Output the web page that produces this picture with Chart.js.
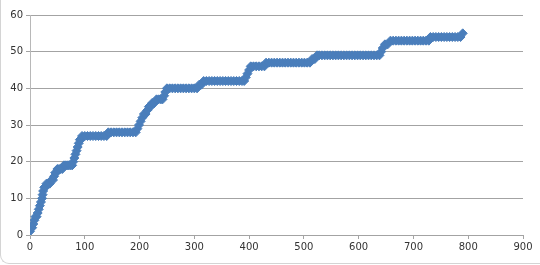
<!DOCTYPE html>
<html>
<head>
<meta charset="utf-8">
<script src="https://cdn.jsdelivr.net/npm/chart.js@4.4.1/dist/chart.umd.min.js"></script>
<style>
  html, body { margin: 0; padding: 0; background: #fff; }
  #wrap {
    position: relative; width: 540px; height: 264px; box-sizing: border-box;
    border-left: 1px solid #d4d4d4; border-bottom: 1px solid #d4d4d4;
    border-bottom-left-radius: 9px; overflow: hidden;
  }
  canvas { position: absolute; left: -1px; top: 0; }
</style>
</head>
<body>
<div id="wrap"><canvas id="chart" width="540" height="265"></canvas></div>
<script>
  // x values (grouped by segment so they line up with ys)
  const xs = [
    0, 2, 4, 6, 8, 10, 12, 14, 16, 18, 20, 22, 23, 24, 26, 28, 30, 33, 36, 39, 42, 44, 46, 48, 50, 53, 56, 59, 62,
    65, 68, 71, 74, 77,
    79, 81, 83, 85, 87, 89, 91, 93,
    95, 100, 105, 110, 115, 120, 125, 130, 135, 140,
    143, 148, 153, 158, 163, 168, 173, 178, 183, 188, 193,
    196, 199, 202, 205, 208, 211, 214, 217, 220, 223, 227, 231, 235, 239, 242, 245, 247,
    250, 255, 260, 265, 270, 275, 280, 285, 290, 295, 300, 305,
    309, 313,
    317, 322, 327, 332, 337, 342, 347, 352, 357, 362, 367, 372, 377, 382, 387, 391,
    394, 397, 400, 403,
    408, 413, 418, 423, 428,
    431, 436, 441, 446, 451, 456, 461, 466, 471, 476, 481, 486, 491, 496, 501, 506, 511,
    515, 520, 524, 528,
    533, 538, 543, 548, 553, 558, 563, 568, 573, 578, 583, 588, 593, 598, 603, 608, 613, 618, 623, 628, 633, 638,
    641, 644, 648, 653, 658,
    663, 668, 673, 678, 683, 688, 693, 698, 703, 708, 713, 718, 723, 728,
    731, 736, 741, 746, 751, 756, 761, 766, 771, 776, 781, 786,
    790
  ];
  const ys = [
    1, 2, 2, 3, 4, 5, 5, 6, 7, 8, 9, 10, 11, 12, 13, 13, 14, 14, 14, 15, 15, 16, 17, 17, 18, 18, 18, 18, 19,
    19, 19, 19, 19, 19,
    20, 21, 22, 23, 24, 25, 26, 26,
    27, 27, 27, 27, 27, 27, 27, 27, 27, 27,
    28, 28, 28, 28, 28, 28, 28, 28, 28, 28, 28,
    29, 30, 31, 32, 33, 33, 34, 35, 35, 36, 36, 37, 37, 37, 37, 38, 39,
    40, 40, 40, 40, 40, 40, 40, 40, 40, 40, 40, 40,
    41, 41,
    42, 42, 42, 42, 42, 42, 42, 42, 42, 42, 42, 42, 42, 42, 42, 42,
    43, 44, 45, 46,
    46, 46, 46, 46, 46,
    47, 47, 47, 47, 47, 47, 47, 47, 47, 47, 47, 47, 47, 47, 47, 47, 47,
    48, 48, 49, 49,
    49, 49, 49, 49, 49, 49, 49, 49, 49, 49, 49, 49, 49, 49, 49, 49, 49, 49, 49, 49, 49, 49,
    50, 51, 52, 52, 53,
    53, 53, 53, 53, 53, 53, 53, 53, 53, 53, 53, 53, 53, 53,
    54, 54, 54, 54, 54, 54, 54, 54, 54, 54, 54, 54,
    55
  ];

  const xTicks = [0, 100, 200, 300, 400, 500, 600, 700, 800, 900];
  const yTicks = [0, 10, 20, 30, 40, 50, 60];

  const blue = "#4a7ebb";
  const gridGray = "#a3a3a3";
  const axisGray = "#b8b8b8";
  const tickFont = { family: "DejaVu Sans", size: 10 };

  const points = xs.map((x, i) => ({ x: x, y: ys[i] }));

  new Chart(document.getElementById("chart"), {
    type: "scatter",
    data: {
      datasets: [{
        data: points,
        showLine: true,
        borderColor: blue,
        borderWidth: 2,
        backgroundColor: blue,
        pointStyle: "rectRot",
        pointRadius: 4.5,
        pointBorderWidth: 1,
        pointBorderColor: blue,
        pointBackgroundColor: blue
      }]
    },
    options: {
      responsive: false,
      animation: false,
      events: [],
      layout: { padding: { left: 0, top: 15, right: 17, bottom: 0 } },
      plugins: { legend: { display: false }, tooltip: { enabled: false } },
      scales: {
        x: {
          type: "linear",
          min: 0, max: 900,
          afterBuildTicks: (axis) => { axis.ticks = xTicks.map(v => ({ value: v })); },
          afterFit: (axis) => { axis.height = 30; },
          grid: { drawOnChartArea: false, drawTicks: true, tickLength: 4, color: gridGray },
          border: { display: true, color: gridGray },
          ticks: { color: "#333", font: tickFont, padding: 2, maxRotation: 0 }
        },
        y: {
          min: 0, max: 60,
          afterBuildTicks: (axis) => { axis.ticks = yTicks.map(v => ({ value: v })); },
          afterFit: (axis) => { axis.width = 30; },
          grid: { color: gridGray, drawTicks: true, tickLength: 4 },
          border: { display: true, color: axisGray },
          ticks: { color: "#333", font: tickFont, padding: 3 }
        }
      }
    }
  });
</script>
</body>
</html>
